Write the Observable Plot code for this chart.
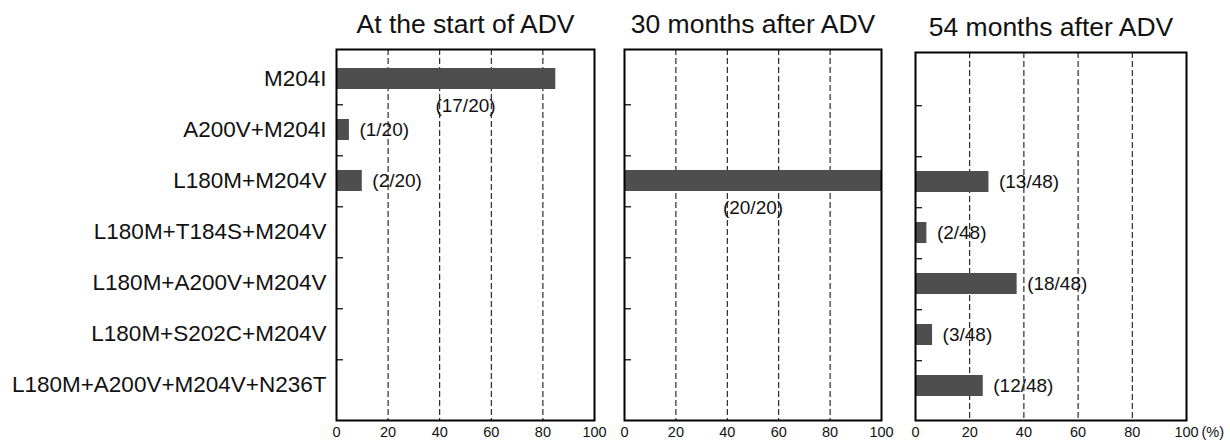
<!DOCTYPE html>
<html><head><meta charset="utf-8">
<script src="https://cdn.jsdelivr.net/npm/d3@7"></script>
<script src="https://cdn.jsdelivr.net/npm/@observablehq/plot@0.6"></script>
<style>
body{margin:0;background:#fff;}
#chart{position:relative;width:1230px;height:442px;}
#chart svg{position:absolute;top:0;overflow:visible;}
</style></head><body><div id="chart"></div>
<script>
const mutations = ["M204I","A200V+M204I","L180M+M204V","L180M+T184S+M204V","L180M+A200V+M204V","L180M+S202C+M204V","L180M+A200V+M204V+N236T"];
const panelTitles = ["At the start of ADV","30 months after ADV","54 months after ADV"];
const startValues = [85, 5, 10, 0, 0, 0, 0];
const startLabels = ["(17/20)","(1/20)","(2/20)","","","",""];
const month30Values = [0, 0, 100, 0, 0, 0, 0];
const month30Labels = ["","","(20/20)","","","",""];
const month54Values = [0, 0, 27.1, 4.2, 37.5, 6.3, 25];
const month54Labels = ["","","(13/48)","(2/48)","(18/48)","(3/48)","(12/48)"];
const xTicks = [0, 20, 40, 60, 80, 100];
const gridTicks = [20, 40, 60, 80];
const unitLabel = "(%)";

const FONT = '"Liberation Sans", Arial, Helvetica, sans-serif';
const panels = [
  {values: startValues, labels: startLabels, left: 0, width: 600, ml: 336, mr: 6, mt: 49, it: 2, showY: true},
  {values: month30Values, labels: month30Labels, left: 600, width: 290, ml: 24, mr: 9, mt: 49, it: 2, showY: false},
  {values: month54Values, labels: month54Labels, left: 890, width: 340, ml: 25, mr: 44, mt: 52, it: 0, showY: false, unit: true}
];
const H = 442, MB = 22, IB = 8;

panels.forEach((p, i) => {
  const data = mutations.map((m, j) => ({m, v: p.values[j], label: p.labels[j]})).filter(d => d.v > 0);
  const below = data.filter(d => d.v >= 80);
  const right = data.filter(d => d.v < 80);
  const plotW = p.width - p.ml - p.mr;
  const step = (H - MB - IB - p.mt - p.it) / mutations.length;
  const tickLen = 7 * 100 / plotW;
  const marks = [
    Plot.ruleX(gridTicks, {x: d => d, stroke: "#000", strokeWidth: 1, strokeDasharray: "6,3"}),
    Plot.ruleY(mutations.slice(0, -1), {y: d => d, x1: 0, x2: tickLen, dy: step / 2, stroke: "#000", strokeWidth: 1.2}),
    Plot.barX(data, {y: "m", x: "v", fill: "#4e4e4e", insetTop: 15, insetBottom: 15}),
    Plot.text(right, {y: "m", x: "v", text: "label", dx: 10, textAnchor: "start", fontSize: 19, fill: "#111"}),
    Plot.text(below, {y: "m", x: () => 50, text: "label", dy: 27, fontSize: 19, fill: "#111"}),
    Plot.frame({stroke: "#000", strokeWidth: 2}),
    Plot.text([panelTitles[i]], {text: d => d, frameAnchor: "top", lineAnchor: "bottom", dy: -17, fontSize: 26.5, fill: "#111"}),
    Plot.axisX({ticks: xTicks, tickSize: 0, tickPadding: 6, fontSize: 14.5, label: null})
  ];
  if (p.showY) marks.push(Plot.axisY({tickSize: 0, tickPadding: 10, fontSize: 22.5, label: null}));
  if (p.unit) marks.push(Plot.text([100], {x: d => d, text: () => unitLabel, frameAnchor: "bottom", lineAnchor: "top", dy: 6, dx: 15, textAnchor: "start", fontSize: 14.5}));
  const svg = Plot.plot({
    width: p.width, height: H,
    marginLeft: p.ml, marginRight: p.mr, marginTop: p.mt, marginBottom: MB,
    style: {fontFamily: FONT, background: "transparent", color: "#111"},
    x: {domain: [0, 100], axis: null},
    y: {domain: mutations, padding: 0, insetTop: p.it, insetBottom: IB, axis: null},
    marks
  });
  svg.style.left = p.left + "px";
  document.getElementById("chart").appendChild(svg);
});
</script></body></html>
